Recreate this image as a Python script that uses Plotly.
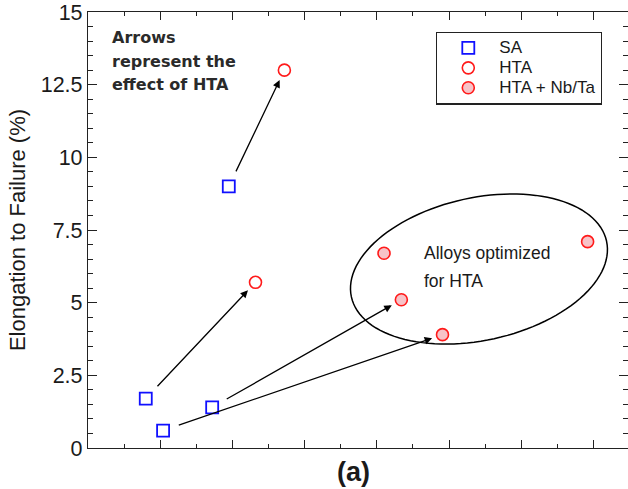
import numpy as np
import plotly.graph_objects as go

# Elongation to failure for each alloy condition
sa_x = [0.80, 1.04, 1.72, 1.95]
sa_y = [1.7, 0.6, 1.4, 9.0]

hta_x = [2.32, 2.72]
hta_y = [5.7, 13.0]

nbta_x = [4.10, 4.34, 4.91, 6.92]
nbta_y = [6.7, 5.1, 3.9, 7.1]

# SA -> HTA arrows: (start x, start y, end x, end y)
arrow_pairs = [
    (sa_x[3], sa_y[3], hta_x[1], hta_y[1]),
    (sa_x[0], sa_y[0], hta_x[0], hta_y[0]),
    (sa_x[2], sa_y[2], nbta_x[1], nbta_y[1]),
    (sa_x[1], sa_y[1], nbta_x[2], nbta_y[2]),
]

y_ticks = [0, 2.5, 5, 7.5, 10, 12.5, 15]
y_tick_text = ["0", "2.5", "5", "7.5", "10", "12.5", "15"]

W, H = 628, 489
ML, MR, MT, MB = 88, 0, 12, 41
PW, PH = W - ML - MR, H - MT - MB
X_RANGE = [0, PW / 72.2]
Y_RANGE = [0, 15]
sx = PW / (X_RANGE[1] - X_RANGE[0])
sy = PH / (Y_RANGE[1] - Y_RANGE[0])

FONT = "Liberation Sans, Arial, sans-serif"


def legend_label(s):
    # compact rows, larger label text
    return f'<span style="font-size:17px">{s}</span>'


fig = go.Figure()

fig.add_trace(go.Scatter(
    x=sa_x, y=sa_y, mode="markers", name=legend_label("SA"),
    marker=dict(symbol="square-open", size=12, color="#1010ff",
                line=dict(width=1.8, color="#1010ff")),
))
fig.add_trace(go.Scatter(
    x=hta_x, y=hta_y, mode="markers", name=legend_label("HTA"),
    marker=dict(symbol="circle", size=12, color="white",
                line=dict(width=1.6, color="#ff1a1a")),
))
fig.add_trace(go.Scatter(
    x=nbta_x, y=nbta_y, mode="markers", name=legend_label("HTA + Nb/Ta"),
    marker=dict(symbol="circle", size=12, color="#f7c3c8",
                line=dict(width=1.6, color="#ff1a1a")),
))

# Tilted ellipse around the alloys optimized for HTA (semi-axes in screen px)
cx, cy = 5.415, 6.158
a_px, b_px, tilt = 130.6, 71.3, np.radians(12.35)
t = np.linspace(0, 2 * np.pi, 121)
ex = cx + (a_px * np.cos(t) * np.cos(tilt) - b_px * np.sin(t) * np.sin(tilt)) / sx
ey = cy + (a_px * np.cos(t) * np.sin(tilt) + b_px * np.sin(t) * np.cos(tilt)) / sy
path = "M " + " L ".join(f"{x:.4f},{y:.4f}" for x, y in zip(ex, ey)) + " Z"

shapes = [dict(type="path", path=path, xref="x", yref="y",
               line=dict(color="black", width=1.5), layer="below")]

annotations = []
for x0, y0, x1, y1 in arrow_pairs:
    annotations.append(dict(
        x=x1, y=y1, ax=x0, ay=y0, xref="x", yref="y", axref="x", ayref="y",
        text="", showarrow=True, arrowhead=2, arrowsize=1.15, arrowwidth=1.3,
        arrowcolor="black", standoff=11, startstandoff=15,
    ))


def px_to_paper(px, py):
    return (px - ML) / PW, (H - MB - py) / PH


for line, py in [("Arrows", 37.5), ("represent the", 61.0), ("effect of HTA", 84.0)]:
    xp, yp = px_to_paper(110, py)
    annotations.append(dict(
        x=xp, y=yp, xref="paper", yref="paper", xanchor="left", yanchor="middle",
        text=f"<b>{line}</b>", showarrow=False,
        font=dict(family="DejaVu Sans, sans-serif", size=16, color="#2a2a2a"),
    ))

for line, py in [("Alloys optimized", 253), ("for HTA", 281)]:
    xp, yp = px_to_paper(422, py)
    annotations.append(dict(
        x=xp, y=yp, xref="paper", yref="paper", xanchor="left", yanchor="middle",
        text=line, showarrow=False,
        font=dict(family=FONT, size=17.5, color="#1a1a1a"),
    ))

xp, yp = px_to_paper(353, 472)
annotations.append(dict(
    x=xp, y=yp, xref="paper", yref="paper", xanchor="center", yanchor="middle",
    text="<b>(a)</b>", showarrow=False,
    font=dict(family=FONT, size=27, color="#1a1a1a"),
))

lx, ly = px_to_paper(436, 31.7)

fig.update_layout(
    width=W, height=H,
    margin=dict(l=ML, r=MR, t=MT, b=MB, pad=0),
    paper_bgcolor="white", plot_bgcolor="white",
    font=dict(family=FONT, color="#1a1a1a"),
    shapes=shapes, annotations=annotations,
    legend=dict(
        x=lx, y=ly, xanchor="left", yanchor="top",
        bgcolor="white", bordercolor="#222222", borderwidth=1.3,
        font=dict(family=FONT, size=13, color="#1a1a1a"),
        itemwidth=52, tracegroupgap=0,
        entrywidth=110, entrywidthmode="pixels",
    ),
    showlegend=True,
)

fig.update_xaxes(
    range=X_RANGE, showgrid=False, zeroline=False, showticklabels=False,
    showline=True, linecolor="#222222", linewidth=1.3, mirror="ticks",
    ticks="inside", tickmode="linear", tick0=0, dtick=1, ticklen=8, tickwidth=1.2,
    tickcolor="#222222",
    minor=dict(ticks="inside", dtick=0.5, ticklen=4, tickwidth=1.1, tickcolor="#222222"),
)
fig.update_yaxes(
    range=Y_RANGE, showgrid=False, zeroline=False,
    showline=True, linecolor="#222222", linewidth=1.3, mirror="ticks",
    ticks="inside", tickvals=y_ticks, ticktext=y_tick_text, ticklen=9, tickwidth=1.2,
    tickcolor="#222222",
    minor=dict(ticks="inside", dtick=0.5, ticklen=5, tickwidth=1.1, tickcolor="#222222"),
    tickfont=dict(family=FONT, size=21.5, color="#1a1a1a"),
    title=dict(text="Elongation to Failure (%)", standoff=8,
               font=dict(family=FONT, size=22, color="#1a1a1a")),
)

fig.write_html("out.html")
